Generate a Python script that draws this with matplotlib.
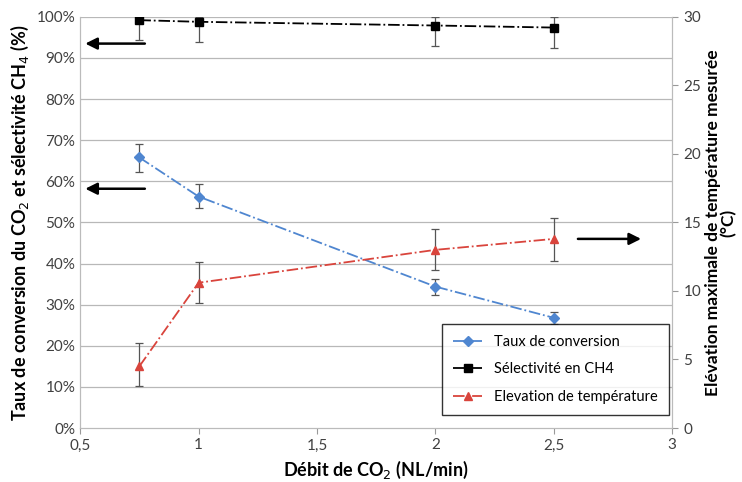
import matplotlib.pyplot as plt
from matplotlib.ticker import FuncFormatter

# data
debit = [0.75, 1.0, 2.0, 2.5]

conversion = [65.8, 56.3, 34.4, 26.8]
conversion_lo = [62.2, 53.4, 32.4, 25.2]
conversion_hi = [69.0, 59.4, 36.2, 28.2]

selectivite = [99.2, 98.8, 97.9, 97.4]
selectivite_lo = [94.4, 94.0, 93.0, 92.5]
selectivite_hi = [100.0, 100.0, 100.0, 100.0]

elevation = [4.5, 10.6, 13.0, 13.8]
elevation_lo = [3.1, 9.1, 11.5, 12.2]
elevation_hi = [6.2, 12.1, 14.5, 15.3]

x_ticks = [0.5, 1, 1.5, 2, 2.5, 3]
x_ticklabels = ["0,5", "1", "1,5", "2", "2,5", "3"]
left_ticks = list(range(0, 101, 10))
right_ticks = list(range(0, 31, 5))

plt.rcParams.update({"font.family": ["Lato", "DejaVu Sans"], "font.size": 10})

blue = "#4f86d0"
red = "#d9443c"
grid_col = "#b8b8b8"
tick_col = "#404040"


def yerr(vals, lo, hi):
    return [[v - l for v, l in zip(vals, lo)], [h - v for v, h in zip(vals, hi)]]


fig = plt.figure(figsize=(7.42, 4.82), dpi=100)
ax = fig.add_axes([0.108, 0.112, 0.798, 0.853])
ax2 = ax.twinx()

ax.set_xlim(0.5, 3)
ax.set_ylim(0, 100)
ax2.set_ylim(0, 30)

for y in left_ticks[1:]:
    ax.axhline(y, color=grid_col, linewidth=0.9, zorder=0)

ax.errorbar(debit, conversion, yerr=yerr(conversion, conversion_lo, conversion_hi),
            fmt="none", ecolor="#555555", elinewidth=0.9, capsize=3, capthick=0.9, zorder=2)
ax.errorbar(debit, selectivite, yerr=yerr(selectivite, selectivite_lo, selectivite_hi),
            fmt="none", ecolor="#555555", elinewidth=0.9, capsize=3, capthick=0.9, zorder=2)
ax2.errorbar(debit, elevation, yerr=yerr(elevation, elevation_lo, elevation_hi),
             fmt="none", ecolor="#555555", elinewidth=0.9, capsize=3, capthick=0.9, zorder=2)

l1, = ax.plot(debit, conversion, color=blue, linestyle="-.", linewidth=1.3,
              marker="D", markersize=5, label="Taux de conversion", zorder=3)
l2, = ax.plot(debit, selectivite, color="black", linestyle="-.", linewidth=1.3,
              marker="s", markersize=6, label="Sélectivité en CH4", zorder=3)
l3, = ax2.plot(debit, elevation, color=red, linestyle="-.", linewidth=1.3,
               marker="^", markersize=6, label="Elevation de température", zorder=3)

# arrows pointing at the matching axis
arrow = dict(arrowstyle="-|>,head_length=0.7,head_width=0.35", color="black", lw=1.8)
ax.annotate("", xy=(0.51, 93.5), xytext=(0.785, 93.5), arrowprops=arrow)
ax.annotate("", xy=(0.51, 58.2), xytext=(0.785, 58.2), arrowprops=arrow)
ax2.annotate("", xy=(2.88, 13.8), xytext=(2.59, 13.8), arrowprops=arrow)

ax.set_xticks(x_ticks)
ax.set_xticklabels(x_ticklabels)
ax.set_yticks(left_ticks)
ax.yaxis.set_major_formatter(FuncFormatter(lambda v, _: f"{v:.0f}%"))
ax2.set_yticks(right_ticks)

for a in (ax, ax2):
    a.tick_params(colors=tick_col, labelsize=11, length=4, color="#999999")
    for s in a.spines.values():
        s.set_color("#bbbbbb")
    a.spines["top"].set_visible(False)
ax.tick_params(axis="y", length=0)
ax2.tick_params(axis="y", pad=4)

ax.set_xlabel("Débit de CO$_2$ (NL/min)", fontsize=13, fontweight="bold", labelpad=5)
ax.set_ylabel("Taux de conversion du CO$_2$ et sélectivité CH$_4$ (%)",
              fontsize=13, fontweight="bold", labelpad=4)
ax2.set_ylabel("Elévation maximale de température mesurée\n(°C)",
               fontsize=12.5, fontweight="bold", labelpad=3, linespacing=0.95)

leg = ax2.legend(handles=[l1, l2, l3], loc="lower right", bbox_to_anchor=(1.006, 0.015),
                 frameon=True, fancybox=False, fontsize=10.5, handlelength=2.0,
                 borderpad=0.75, labelspacing=0.9)
leg.get_frame().set_edgecolor("black")
leg.get_frame().set_linewidth(1.0)

fig.savefig("out.png", dpi=100)
